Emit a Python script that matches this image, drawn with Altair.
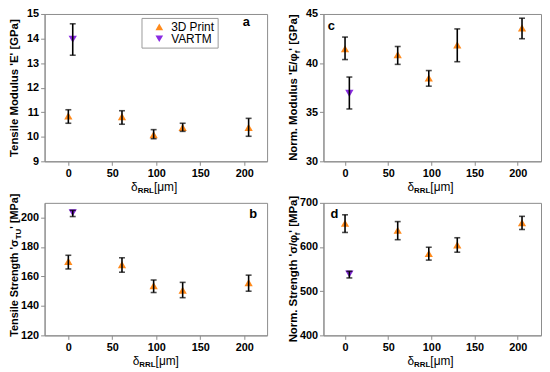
import altair as alt
import pandas as pd

FONT = "Arial"
ORANGE = "#FF8A1C"
PURPLE = "#8A2BE2"
GRAY = "#8c8c8c"
NB = "\u00a0"

series = ["3D Print", "VARTM"]
x_print = [0, 61, 97, 130, 205]
x_vartm = [5]

# panel a: tensile modulus [GPa]
a_print = [10.85, 10.82, 10.09, 10.38, 10.38]
a_print_lo = [10.55, 10.51, 9.92, 10.22, 10.02]
a_print_hi = [11.10, 11.06, 10.29, 10.55, 10.75]
a_vartm = [13.97]
a_vartm_lo = [13.32]
a_vartm_hi = [14.60]

# panel b: tensile strength [MPa]
b_print = [170.2, 168.0, 153.8, 150.7, 155.8]
b_print_lo = [165.1, 162.9, 149.1, 145.6, 150.0]
b_print_hi = [174.4, 172.7, 157.6, 156.0, 160.9]
b_vartm = [203.3]
b_vartm_lo = [200.7]
b_vartm_hi = [204.9]

# panel c: normalised modulus [GPa]
c_print = [41.46, 40.86, 38.48, 41.85, 43.58]
c_print_lo = [40.36, 39.87, 37.65, 40.14, 42.48]
c_print_hi = [42.65, 41.69, 39.24, 43.48, 44.57]
c_vartm = [36.92]
c_vartm_lo = [35.33]
c_vartm_hi = [38.58]

# panel d: normalised strength [MPa]
d_print = [653.8, 638.0, 585.3, 604.7, 655.0]
d_print_lo = [633.0, 616.6, 570.4, 588.3, 639.7]
d_print_hi = [673.0, 657.6, 599.5, 621.0, 669.5]
d_vartm = [539.0]
d_vartm_lo = [530.0]
d_vartm_hi = [545.0]

x_ticks = [0, 50, 100, 150, 200]

# approximate Arial advance widths (per 1000 em)
REG = {" ": 278, NB: 278, "'": 191, ".": 278, "/": 278, "[": 278, "]": 278, "μ": 576,
       "δ": 556, "σ": 570, "φ": 650, "m": 833}
BOLD = {" ": 278, NB: 278, "'": 238, ".": 278, "/": 278, "[": 333, "]": 333, "E": 667,
        "G": 778, "M": 833, "N": 722, "P": 667, "R": 722, "L": 611, "S": 667,
        "T": 611, "U": 722, "a": 556, "d": 611, "e": 556, "f": 333, "g": 611,
        "h": 611, "i": 278, "l": 278, "m": 889, "n": 611, "o": 611, "r": 389,
        "s": 556, "t": 333, "u": 611, "σ": 620, "φ": 720, "μ": 611, "δ": 611}


def tw(s, size, bold):
    table = BOLD if bold else REG
    return sum(table.get(ch, 556) for ch in s) / 1000.0 * size


def frame(xs, ys, lo, hi, xv, yv, lov, hiv):
    return pd.DataFrame({
        "x": list(xs) + list(xv),
        "y": list(ys) + list(yv),
        "lo": list(lo) + list(lov),
        "hi": list(hi) + list(hiv),
        "series": [series[0]] * len(xs) + [series[1]] * len(xv),
    })


def title_layers(pieces, orient, w, h, shift=0):
    total = sum(tw(t, s, b) for t, s, b, sub in pieces)
    layers = []
    cum = 0.0
    for t, s, b, sub in pieces:
        if orient == "x":
            ax, ay, ang = w / 2 - total / 2, h + 26, 0
        else:
            ax, ay, ang = -30, h / 2 + total / 2 + shift, 270
        layers.append(
            alt.Chart(pd.DataFrame({"t": [t]})).mark_text(
                align="left", baseline="middle", angle=ang, dx=cum,
                dy=(4 if sub else 0), font=FONT, fontSize=s,
                fontWeight=("bold" if b else "normal"), color="black"
            ).encode(x=alt.value(ax), y=alt.value(ay), text="t:N")
        )
        cum += tw(t, s, b)
    return layers


def panel(df, xdom, ydom, yticks, w, h, ytitle, xtitle, letter, lx, ly, legend, yshift=0):
    xs = alt.Scale(domain=xdom, nice=False, zero=False)
    ys = alt.Scale(domain=ydom, nice=False, zero=False)
    xax = alt.Axis(values=x_ticks, title=None)
    yax = alt.Axis(values=yticks, title=None)
    leg = None
    if legend:
        leg = alt.Legend(title=None, orient="none", legendX=98, legendY=4,
                         strokeColor="#9a9a9a", fillColor="white", padding=3,
                         symbolOffset=9, labelFont=FONT, labelFontSize=12,
                         labelColor="black", symbolSize=60, rowPadding=-2,
                         labelOffset=6)
    base = alt.Chart(df)
    pts = base.mark_point(filled=True, size=70, opacity=1).encode(
        x=alt.X("x:Q", scale=xs, axis=xax),
        y=alt.Y("y:Q", scale=ys, axis=yax),
        color=alt.Color("series:N", scale=alt.Scale(domain=series, range=[ORANGE, PURPLE]), legend=leg),
        shape=alt.Shape("series:N", scale=alt.Scale(domain=series, range=["triangle-up", "triangle-down"]), legend=leg),
    )
    bars = base.mark_rule(color="black", strokeWidth=1.6).encode(
        x=alt.X("x:Q", scale=xs, axis=xax),
        y=alt.Y("lo:Q", scale=ys, axis=yax),
        y2="hi:Q",
    )
    cap_lo = base.mark_tick(color="black", orient="horizontal", size=6, thickness=1.6).encode(
        x=alt.X("x:Q", scale=xs, axis=xax),
        y=alt.Y("lo:Q", scale=ys, axis=yax),
    )
    cap_hi = base.mark_tick(color="black", orient="horizontal", size=6, thickness=1.6).encode(
        x=alt.X("x:Q", scale=xs, axis=xax),
        y=alt.Y("hi:Q", scale=ys, axis=yax),
    )
    lab = alt.Chart(pd.DataFrame({"t": [letter]})).mark_text(
        font=FONT, fontSize=13, fontWeight="bold", color="black",
        align="center", baseline="middle"
    ).encode(x=alt.value(lx), y=alt.value(ly), text="t:N")
    layers = [pts, bars, cap_lo, cap_hi, lab]
    layers += title_layers(ytitle, "y", w, h, yshift)
    layers += title_layers(xtitle, "x", w, h)
    return alt.layer(*layers).properties(width=w, height=h)


xt_space = [("δ", 12, False, False), ("RRL", 8, True, True), (NB + "[μm]", 12, False, False)]
xt_nospace = [("δ", 12, False, False), ("RRL", 8, True, True), ("[μm]", 12, False, False)]

df_a = frame(x_print, a_print, a_print_lo, a_print_hi, x_vartm, a_vartm, a_vartm_lo, a_vartm_hi)
df_b = frame(x_print, b_print, b_print_lo, b_print_hi, x_vartm, b_vartm, b_vartm_lo, b_vartm_hi)
df_c = frame(x_print, c_print, c_print_lo, c_print_hi, x_vartm, c_vartm, c_vartm_lo, c_vartm_hi)
df_d = frame(x_print, d_print, d_print_lo, d_print_hi, x_vartm, d_vartm, d_vartm_lo, d_vartm_hi)

pa = panel(df_a, [-27, 226], [9, 15], [9, 10, 11, 12, 13, 14, 15], 225, 149,
           [("Tensile Modulus 'E' [GPa]", 11.5, True, False)], xt_space, "a", 204, 8, True)
pc = panel(df_c, [-25, 227], [30, 45], [30, 35, 40, 45], 220, 149,
           [("Norm. Modulus 'E/φ", 11.5, True, False), ("f", 8, True, True), ("' [GPa]", 11.5, True, False)],
           xt_space, "c", 8, 12, False)
pb = panel(df_b, [-27, 226], [120, 210], [120, 140, 160, 180, 200], 225, 134,
           [("Tensile Strength 'σ", 11, True, False), ("TU", 8, True, True), ("' [MPa]", 11, True, False)],
           xt_nospace, "b", 211, 11, False, yshift=-4)
pd_ = panel(df_d, [-25, 227], [400, 700], [400, 500, 600, 700], 220, 134,
            [("Norm. Strength 'σ/φ", 11.5, True, False), ("f", 8, True, True), ("' [MPa]", 11.5, True, False)],
            xt_space, "d", 11, 11, False)

row1 = alt.hconcat(pa, pc, spacing=19).resolve_scale(color="independent", shape="independent").resolve_legend(color="independent", shape="independent")
row2 = alt.hconcat(pb, pd_, spacing=19).resolve_scale(color="independent", shape="independent").resolve_legend(color="independent", shape="independent")
chart = alt.vconcat(row1, row2, spacing=-3).resolve_scale(
    color="independent", shape="independent"
).resolve_legend(color="independent", shape="independent").properties(
    padding={"left": 0, "top": -3, "right": 0, "bottom": 0}, background="white"
).configure_axis(
    domainColor=GRAY, tickColor=GRAY, labelFont=FONT, labelFontWeight="bold",
    labelFontSize=11, labelColor="black", grid=False, tickSize=4, labelPadding=2
).configure_view(stroke=GRAY, strokeWidth=1)

chart.save("out.html", embed_options={"renderer": "svg", "actions": False})
